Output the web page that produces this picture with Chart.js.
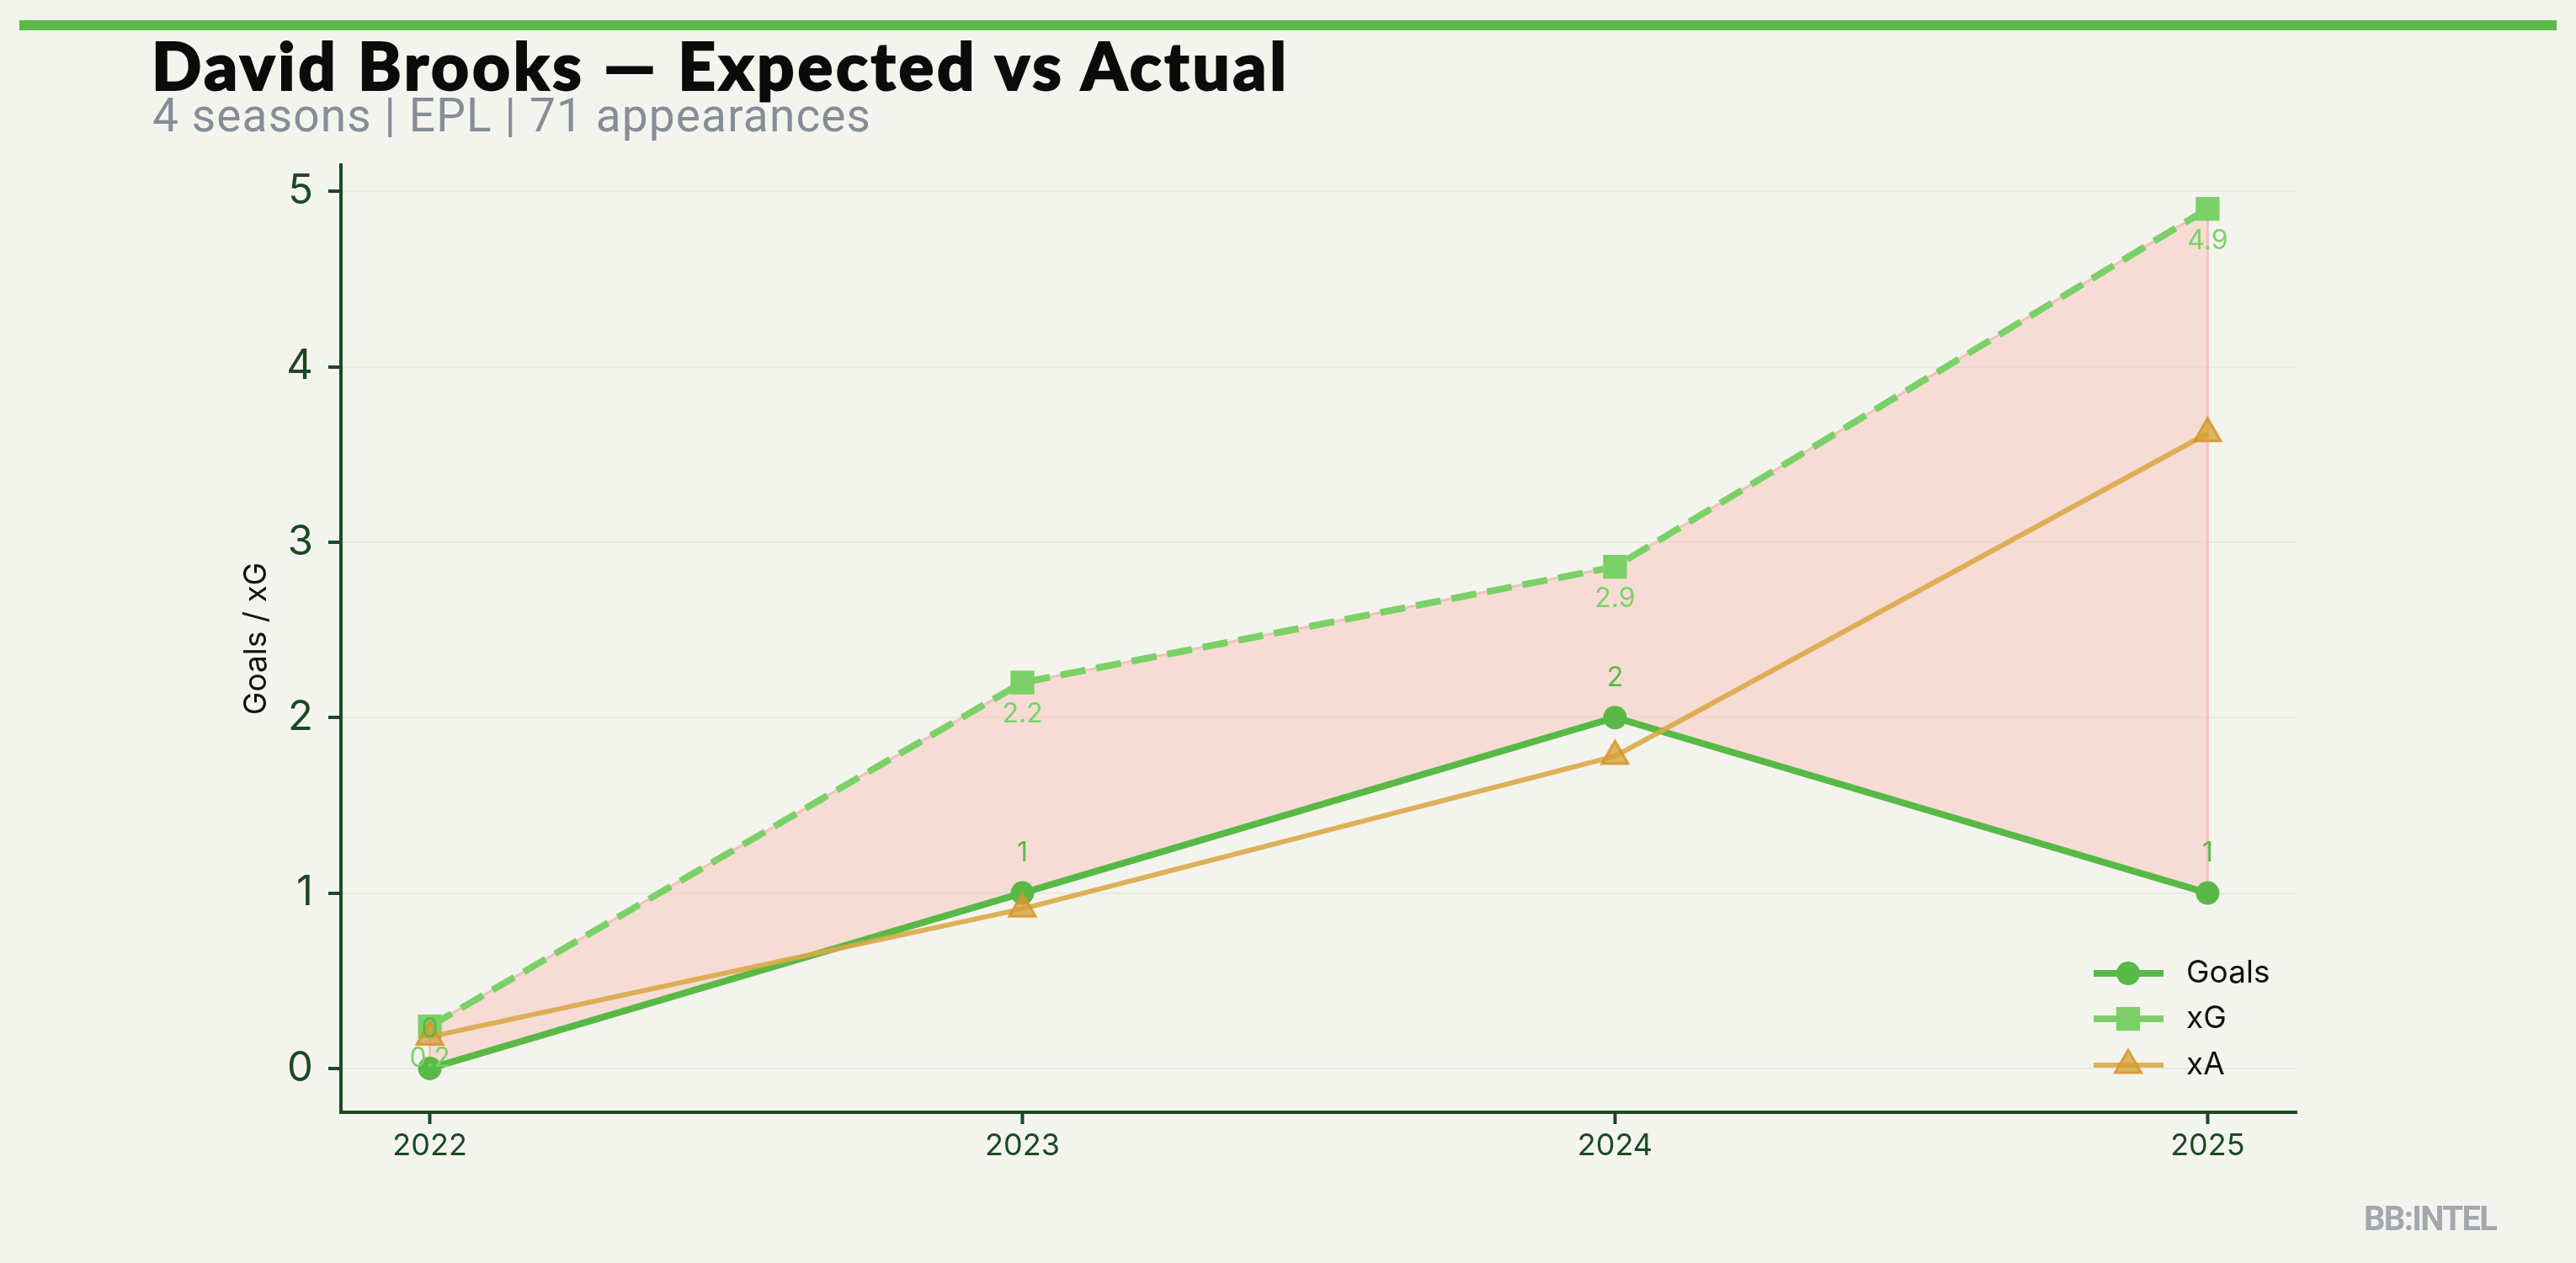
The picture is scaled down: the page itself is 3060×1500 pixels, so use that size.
<!DOCTYPE html>
<html><head><meta charset="utf-8">
<script src="https://cdn.jsdelivr.net/npm/chart.js@4.4.1/dist/chart.umd.min.js"></script>
<style>
html,body{margin:0;padding:0;background:#f4f4ef;}
#wrap{position:relative;width:3060px;height:1500px;overflow:hidden;background:#f4f4ef;}
#c{position:absolute;left:0;top:0;}
#bar{position:absolute;left:23px;top:24px;width:3014px;height:12px;background:#5cb94a;}
.t{position:absolute;white-space:nowrap;line-height:1;}
#title{left:180px;top:38px;font-family:Lato,sans-serif;font-weight:900;font-size:78px;color:#0b0b0b;-webkit-text-stroke:2px #0b0b0b;}
#sub{left:181px;top:110px;font-family:Roboto,sans-serif;font-size:55px;color:#878d97;}
#wm{top:1428px;font-family:Roboto,sans-serif;font-weight:700;font-size:40px;color:#a3a7ae;}
</style></head>
<body>
<div id="wrap">
<canvas id="c" width="3060" height="1500"></canvas>
<div id="bar"></div>
<div class="t" id="title">David Brooks — Expected vs Actual</div>
<div class="t" id="sub">4 seasons | EPL | 71 appearances</div>
<div class="t" id="wm">BB:INTEL</div>
</div>
<script>
const seasons = [2022, 2023, 2024, 2025];
const goals = [0, 1, 2, 1];
const xG = [0.24, 2.20, 2.86, 4.90];
const xA = [0.18, 0.91, 1.78, 3.62];
const yTicks = [0, 1, 2, 3, 4, 5];
const seriesNames = ['Goals', 'xG', 'xA'];
const yTitle = 'Goals / xG';

function fitText(id, target, anchorRight) {
  const el = document.getElementById(id);
  const w = el.getBoundingClientRect().width;
  const n = el.textContent.length;
  const ls = (target - w) / (n - 1);
  el.style.letterSpacing = ls + 'px';
  el.style.marginRight = (-ls) + 'px';
  if (anchorRight !== undefined) {
    const w2 = el.getBoundingClientRect().width - ls;
    el.style.left = (anchorRight - w2) + 'px';
  }
}
fitText('title', 1348);
fitText('sub', 853);
fitText('wm', 159, 2967);

const pts = arr => arr.map((v, i) => ({x: seasons[i], y: v}));
const AX = '#1b4a22';
const GC = '#58b947', XGC = '#7bd167';

const labelPlugin = {
  id: 'vlabels',
  afterDatasetDraw(chart, args) {
    const ctx = chart.ctx;
    if (args.index === 3) {
      const m = chart.getDatasetMeta(0).data, b = chart.getDatasetMeta(3).data;
      ctx.save();
      ctx.strokeStyle = 'rgba(240,190,184,0.9)';
      ctx.lineWidth = 3;
      [0, b.length - 1].forEach(i => {
        ctx.beginPath(); ctx.moveTo(b[i].x, b[i].y); ctx.lineTo(m[i].x, m[i].y); ctx.stroke();
      });
      ctx.restore();
    }
  },
  afterDatasetsDraw(chart) {
    const ctx = chart.ctx;
    ctx.save();
    ctx.font = '32px Inter';
    ctx.textAlign = 'center';
    ctx.textBaseline = 'middle';
    chart.getDatasetMeta(0).data.forEach((p, i) => {
      ctx.fillStyle = GC;
      ctx.fillText(String(goals[i]), p.x, p.y - 47);
    });
    chart.getDatasetMeta(1).data.forEach((p, i) => {
      ctx.fillStyle = XGC;
      ctx.fillText(xG[i].toFixed(1), p.x, p.y + 38);
    });
    ctx.restore();
  }
};

const legendPlugin = {
  id: 'lineLegend',
  afterDraw(chart) {
    const ctx = chart.ctx;
    const rows = [1156, 1210, 1265];
    const x0 = 2487, x1 = 2570, xm = 2528, xt = 2597;
    ctx.save();
    seriesNames.forEach((name, k) => {
      const ds = chart.data.datasets[k];
      const y = rows[k];
      ctx.strokeStyle = ds.borderColor;
      ctx.lineWidth = k === 2 ? 6 : 8;
      ctx.setLineDash([]);
      ctx.beginPath(); ctx.moveTo(x0, y); ctx.lineTo(x1, y); ctx.stroke();
      ctx.fillStyle = ds.backgroundColor;
      ctx.strokeStyle = ds.pointBorderColor || ds.borderColor;
      ctx.lineWidth = ds.pointBorderWidth || 0;
      Chart.helpers.drawPoint(ctx, {pointStyle: ds.pointStyle, radius: ds.pointRadius, rotation: 0, borderWidth: ds.pointBorderWidth || 0}, xm, y);
      ctx.fillStyle = '#111';
      ctx.font = '37px Inter';
      ctx.textAlign = 'left';
      ctx.textBaseline = 'middle';
      ctx.fillText(name, xt, y);
    });
    ctx.restore();
  }
};

new Chart(document.getElementById('c'), {
  type: 'line',
  data: {
    datasets: [
      {label: seriesNames[0], data: pts(goals), borderColor: GC, backgroundColor: GC, borderWidth: 8,
       pointStyle: 'circle', pointRadius: 14, pointBorderWidth: 0, order: 3, fill: false},
      {label: seriesNames[1], data: pts(xG), borderColor: XGC, backgroundColor: XGC, borderWidth: 8,
       borderDash: [30, 13], pointStyle: 'rect', pointRadius: 20, pointBorderWidth: 0, order: 2, fill: false},
      {label: seriesNames[2], data: pts(xA), borderColor: 'rgba(218,168,72,0.9)', backgroundColor: 'rgba(214,160,50,0.75)',
       pointBorderColor: 'rgba(210,150,40,0.85)', borderWidth: 6, pointStyle: 'triangle', pointRadius: 18,
       pointBorderWidth: 3, order: 1, fill: false},
      {label: 'band', data: pts(xG), borderColor: 'rgba(240,190,184,0.9)', borderWidth: 3, pointRadius: 0,
       backgroundColor: 'rgba(250,185,175,0.4)', fill: {target: 0}, order: 4}
    ]
  },
  options: {
    responsive: false,
    animation: false,
    devicePixelRatio: 1,
    events: [],
    layout: {padding: {top: 196, right: 332, bottom: 0, left: 283}},
    plugins: {legend: {display: false}, tooltip: {enabled: false}, title: {display: false}},
    scales: {
      x: {
        type: 'linear', min: 2021.85, max: 2025.15,
        afterBuildTicks: s => { s.ticks = seasons.map(v => ({value: v})); },
        afterFit: s => { s.height = 179; },
        border: {display: true, color: AX, width: 4},
        grid: {display: true, drawOnChartArea: false, drawTicks: true, tickLength: 14, tickColor: AX, tickWidth: 4},
        ticks: {color: AX, font: {family: 'Inter', size: 36}, padding: 5, callback: v => String(v)}
      },
      y: {
        type: 'linear', min: -0.25, max: 5.15,
        afterBuildTicks: s => { s.ticks = yTicks.map(v => ({value: v})); },
        afterFit: s => { s.width = 405 - 283; },
        border: {display: true, color: AX, width: 4},
        grid: {display: true, color: '#e9e9e3', lineWidth: 2, drawTicks: true, tickLength: 15, tickColor: AX, tickWidth: 4},
        ticks: {color: AX, font: {family: 'Inter', size: 49}, padding: 18, callback: v => String(v)},
        title: {display: true, text: yTitle, color: '#111', font: {family: 'Inter', size: 37}, padding: 0}
      }
    }
  },
  plugins: [labelPlugin, legendPlugin]
});
</script>
</body></html>
